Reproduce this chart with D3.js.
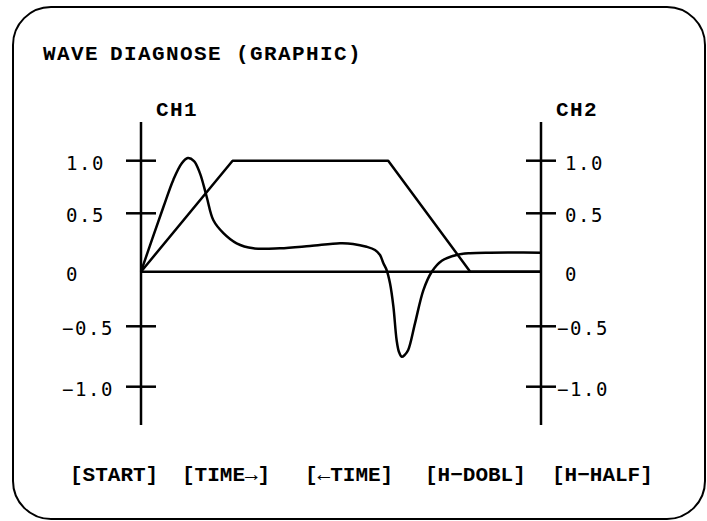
<!DOCTYPE html>
<html>
<head>
<meta charset="utf-8">
<script src="https://cdn.jsdelivr.net/npm/d3@7"></script>
<style>
  html, body { margin: 0; padding: 0; background: #fff; }
  svg { display: block; }
</style>
</head>
<body>
<svg id="chart" width="707" height="521"></svg>
<script>
// Axis tick values shared by both channels
const tickValues = [1.0, 0.5, 0, -0.5, -1.0];
const tickLabels = ["1.0", "0.5", "0", "\u22120.5", "\u22121.0"];

// Time base in percent of the screen sweep
// CH2: commanded speed profile (trapezoid)
const ch2Time  = [0, 22.9, 61.8, 82.3, 100];
const ch2Value = [0, 1.0, 1.0, 0, 0];

// CH1: measured response
const ch1Time = [0, 2.9, 5.6, 8.1, 10.2, 11.7, 13.25, 14.75, 16.4, 18.1, 20.6, 23.9, 28.1,
  34.75, 42.25, 49.75, 53, 56.4, 58.5, 59.75, 60.6, 61.4, 62.25, 63.1, 63.9, 64.5, 65.2,
  65.9, 66.8, 68.5, 70.6, 72.7, 75.2, 78.9, 82.25, 87.25, 92.25, 100];
const ch1Value = [0, 0.29, 0.56, 0.82, 0.975, 1.025, 0.997, 0.88, 0.66, 0.44, 0.33, 0.243, 0.2,
  0.2, 0.22, 0.243, 0.238, 0.214, 0.186, 0.143, 0.072, 0.015, -0.106, -0.32, -0.613, -0.713, -0.752,
  -0.738, -0.696, -0.473, -0.168, 0, 0.094, 0.143, 0.158, 0.163, 0.164, 0.163];

const softKeys = ["[START]", "[TIME\u2192]", "[\u2190TIME]", "[H\u2212DOBL]", "[H\u2212HALF]"];
const channelNames = ["CH1", "CH2"];
const titleWords = ["WAVE", "DIAGNOSE (GRAPHIC)"];

const svg = d3.select("#chart");
const ink = "#000";

// Screen frame
svg.append("rect")
  .attr("x", 13).attr("y", 7).attr("width", 692).attr("height", 512)
  .attr("rx", 38).attr("ry", 38)
  .attr("fill", "none").attr("stroke", ink).attr("stroke-width", 2);

const x = d3.scaleLinear().domain([0, 100]).range([141, 541]);
const y = d3.scaleLinear()
  .domain([-1, -0.5, 0, 0.5, 1])
  .range([386.7, 326.3, 271.7, 213.3, 160.7]);

const axisTop = 122, axisBottom = 425, tickHalf = 15;

const serifFont = "'Liberation Mono', 'Courier New', monospace";
const monoFont = "'DejaVu Sans Mono', monospace";

// Title (the first word sits a little closer to the rest)
const title = svg.append("text")
  .attr("y", 60)
  .attr("font-family", serifFont).attr("font-weight", "bold")
  .attr("font-size", 21).attr("letter-spacing", 1.4)
  .attr("fill", ink);
title.selectAll("tspan")
  .data(titleWords)
  .join("tspan")
  .attr("x", (d, i) => i === 0 ? 43 : 110)
  .text(d => d);

// Channel axes
[x(0), x(100)].forEach((ax, i) => {
  const g = svg.append("g");
  g.append("line")
    .attr("x1", ax).attr("x2", ax)
    .attr("y1", axisTop).attr("y2", axisBottom)
    .attr("stroke", ink).attr("stroke-width", 2.5);
  g.selectAll("line.tick")
    .data(tickValues.filter(v => v !== 0))
    .join("line")
    .attr("class", "tick")
    .attr("x1", ax - tickHalf).attr("x2", ax + tickHalf)
    .attr("y1", d => y(d)).attr("y2", d => y(d))
    .attr("stroke", ink).attr("stroke-width", 2.5);
  g.selectAll("text.lbl")
    .data(tickValues)
    .join("text")
    .attr("class", "lbl")
    .attr("font-family", monoFont).attr("font-size", 19)
    .attr("letter-spacing", 1.6)
    .attr("fill", ink)
    .attr("dominant-baseline", "central")
    .attr("x", d => i === 0 ? (d < 0 ? 62 : 66) : (d < 0 ? 557 : 565))
    .attr("y", d => y(d) + 2)
    .text((d, k) => tickLabels[k]);
  svg.append("text")
    .attr("x", i === 0 ? 156 : 556).attr("y", 116)
    .attr("font-family", serifFont).attr("font-weight", "bold")
    .attr("font-size", 21).attr("letter-spacing", 1.4)
    .attr("fill", ink)
    .text(channelNames[i]);
});

// Zero reference
svg.append("line")
  .attr("x1", x(0)).attr("x2", x(100))
  .attr("y1", y(0)).attr("y2", y(0))
  .attr("stroke", ink).attr("stroke-width", 2.5);

// CH2 trapezoid
const ch2 = ch2Time.map((t, i) => [t, ch2Value[i]]);
svg.append("path")
  .datum(ch2)
  .attr("fill", "none").attr("stroke", ink).attr("stroke-width", 2.5)
  .attr("stroke-linejoin", "round")
  .attr("d", d3.line().x(d => x(d[0])).y(d => y(d[1])));

// CH1 response
const ch1 = ch1Time.map((t, i) => [t, ch1Value[i]]);
svg.append("path")
  .datum(ch1)
  .attr("fill", "none").attr("stroke", ink).attr("stroke-width", 2.5)
  .attr("d", d3.line().curve(d3.curveCatmullRom.alpha(0.5)).x(d => x(d[0])).y(d => y(d[1])));

// Soft keys
const keyX = [70, 182, 305, 425, 552];
svg.selectAll("text.key")
  .data(softKeys)
  .join("text")
  .attr("class", "key")
  .attr("x", (d, i) => keyX[i]).attr("y", 481)
  .attr("font-family", serifFont).attr("font-weight", "bold")
  .attr("font-size", 21)
  .attr("fill", ink)
  .text(d => d);
</script>
</body>
</html>
